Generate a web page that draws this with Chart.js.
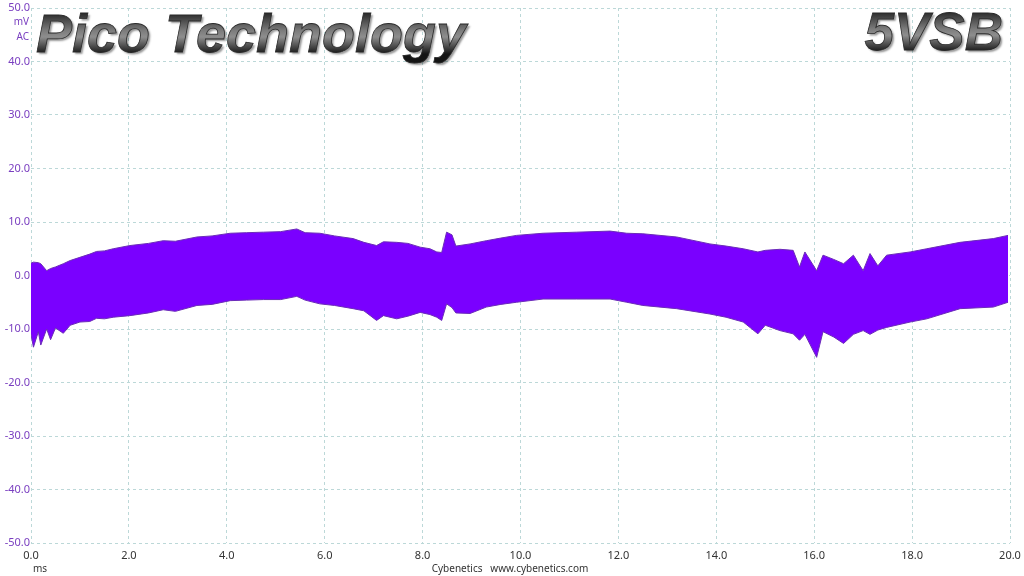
<!DOCTYPE html>
<html>
<head>
<meta charset="utf-8">
<script src="https://cdn.jsdelivr.net/npm/chart.js@4/dist/chart.umd.min.js"></script>
<style>
  html, body { margin: 0; padding: 0; background: #fff; }
  #wrap { width: 1024px; height: 576px; }
</style>
</head>
<body>
<div id="wrap"><canvas id="rippleChart" width="1024" height="576"></canvas></div>
<script>
// envelope of the ripple band (ms, mV)
const timesMs = [
    0.00, 0.05, 0.15, 0.20, 0.32, 0.40, 0.50, 0.66, 0.80, 1.00,
    1.20, 1.34, 1.50, 1.68, 2.02, 2.40, 2.70, 2.95, 3.39, 3.70,
    4.07, 4.40, 4.75, 5.10, 5.43, 5.60, 5.90, 6.20, 6.58, 6.80,
    7.06, 7.20, 7.47, 7.70, 7.95, 8.15, 8.29, 8.39, 8.49, 8.60,
    8.68, 8.97, 9.30, 9.60, 9.92, 10.46, 11.15, 11.83, 12.17, 12.50,
    13.19, 13.87, 14.20, 14.55, 14.85, 15.00, 15.30, 15.57, 15.70, 15.81,
    16.05, 16.18, 16.40, 16.60, 16.80, 17.00, 17.14, 17.30, 17.48, 17.96,
    18.30, 18.98, 19.66, 19.96
];
const upperMv = [
    2.3, 2.5, 2.4, 2.2, 0.9, 1.3, 1.6, 2.2, 2.8, 3.4,
    4.0, 4.5, 4.6, 5.0, 5.6, 6.0, 6.5, 6.4, 7.2, 7.4,
    7.9, 8.0, 8.1, 8.2, 8.7, 8.0, 7.9, 7.4, 6.9, 6.2,
    5.6, 6.3, 6.2, 6.0, 5.3, 5.0, 4.4, 4.3, 8.1, 7.6,
    5.5, 5.9, 6.5, 7.0, 7.5, 7.9, 8.1, 8.3, 7.9, 7.8,
    7.2, 5.9, 5.5, 5.0, 4.4, 4.7, 4.9, 4.7, 1.6, 4.4,
    0.9, 3.8, 3.0, 2.2, 3.8, 0.9, 4.1, 1.8, 3.8, 4.4,
    5.0, 6.2, 6.9, 7.5
];
const lowerMv = [
    -11.0, -13.4, -10.5, -13.0, -10.0, -12.0, -9.8, -10.8, -9.3, -8.7,
    -8.6, -8.0, -8.1, -7.8, -7.5, -7.0, -6.4, -6.7, -5.6, -5.4,
    -4.7, -4.6, -4.5, -4.5, -3.9, -4.6, -5.3, -5.6, -6.2, -6.6,
    -8.4, -7.5, -8.1, -7.6, -6.9, -7.3, -7.8, -8.4, -5.3, -6.0,
    -7.0, -7.1, -5.9, -5.4, -5.0, -4.4, -4.4, -4.4, -5.0, -5.6,
    -6.2, -7.2, -7.8, -8.7, -10.9, -9.3, -10.3, -10.9, -12.1, -11.0,
    -15.3, -10.5, -11.5, -12.7, -11.0, -10.3, -11.0, -10.2, -9.7, -8.7,
    -8.1, -6.2, -5.9, -5.0
];
const xTicks = [0, 2, 4, 6, 8, 10, 12, 14, 16, 18, 20];
const yTicks = [-50, -40, -30, -20, -10, 0, 10, 20, 30, 40, 50];

const bandColor = "#7a00ff";
const edgeColor = "#6b2bb8";
const fontFamily = "'Noto Sans', 'Open Sans', sans-serif";

// big headline text and the small captions round the plot
const captionPlugin = {
    id: "captions",
    afterDraw(chart) {
        const c = chart.ctx;
        c.save();

        function metal(text, x, y, align, size) {
            c.font = "bold italic " + size + "px 'Liberation Sans', Arial, sans-serif";
            c.textAlign = align;
            c.textBaseline = "alphabetic";
            const g = c.createLinearGradient(0, y - size * 0.75, 0, y + 2);
            g.addColorStop(0, "#222222");
            g.addColorStop(0.45, "#7c7c7c");
            g.addColorStop(0.6, "#8e8e8e");
            g.addColorStop(1, "#141414");
            c.shadowColor = "rgba(0,0,0,0.4)";
            c.shadowOffsetX = 2;
            c.shadowOffsetY = 2;
            c.shadowBlur = 2;
            c.fillStyle = g;
            c.fillText(text, x, y);
            c.shadowColor = "transparent";
            c.lineWidth = 0.8;
            c.strokeStyle = "#2a2a2a";
            c.strokeText(text, x, y);
        }
        metal("Pico Technology", 36, 52, "left", 54);
        metal("5VSB", 1003, 50, "right", 53);

        c.font = "10px " + fontFamily;
        c.textBaseline = "middle";
        c.fillStyle = "#7a3fc0";
        c.textAlign = "right";
        c.fillText("mV", 29, 22);
        c.fillText("AC", 29, 37);

        c.fillStyle = "#333";
        c.textAlign = "left";
        c.fillText("ms", 33, 569);
        c.textAlign = "center";
        c.fillText("Cybenetics   www.cybenetics.com", 510, 569);
        c.restore();
    }
};

const ctx = document.getElementById("rippleChart").getContext("2d");
new Chart(ctx, {
    type: "line",
    data: {
        datasets: [
            {
                label: "lower",
                data: timesMs.map((t, i) => ({ x: t, y: lowerMv[i] })),
                borderColor: edgeColor,
                borderWidth: 1,
                pointRadius: 0,
                tension: 0,
                fill: false,
            },
            {
                label: "upper",
                data: timesMs.map((t, i) => ({ x: t, y: upperMv[i] })),
                borderColor: edgeColor,
                backgroundColor: bandColor,
                borderWidth: 1,
                pointRadius: 0,
                tension: 0,
                fill: "-1",
            },
        ],
    },
    options: {
        responsive: false,
        animation: false,
        layout: { padding: { top: 8, right: 14, left: 0, bottom: 0 } },
        plugins: {
            legend: { display: false },
            tooltip: { enabled: false },
        },
        scales: {
            x: {
                type: "linear",
                min: 0,
                max: 20,
                afterBuildTicks: (s) => { s.ticks = xTicks.map((v) => ({ value: v })); },
                afterFit: (s) => { s.height = 33; s.paddingLeft = 0; s.paddingRight = 0; },
                border: { display: false, dash: [3, 3] },
                grid: { color: "#bcd8d8", drawTicks: false },
                ticks: {
                    padding: 6,
                    color: "#333",
                    font: { family: fontFamily, size: 11 },
                    callback: (v) => v.toFixed(1),
                    maxRotation: 0,
                },
            },
            y: {
                min: -50,
                max: 50,
                afterBuildTicks: (s) => { s.ticks = yTicks.map((v) => ({ value: v })); },
                afterFit: (s) => { s.width = 31; s.paddingTop = 0; s.paddingBottom = 0; },
                border: { display: false, dash: [3, 3] },
                grid: { color: "#bcd8d8", drawTicks: false },
                ticks: {
                    padding: 1,
                    color: "#7a3fc0",
                    font: { family: fontFamily, size: 11 },
                    callback: (v) => v.toFixed(1),
                },
            },
        },
    },
    plugins: [captionPlugin],
});
</script>
</body>
</html>
